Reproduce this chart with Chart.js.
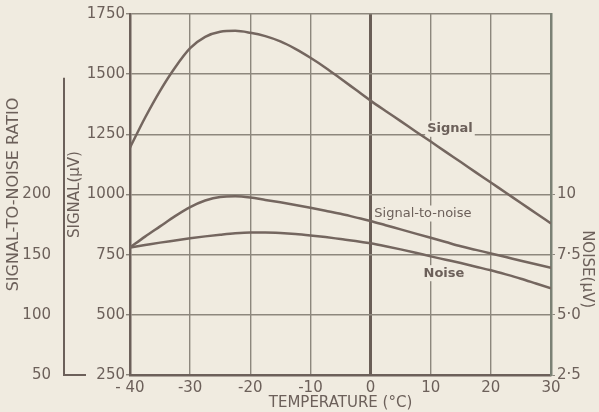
<!DOCTYPE html>
<html>
<head>
<meta charset="utf-8">
<script src="https://cdn.jsdelivr.net/npm/chart.js@4"></script>
<style>
    html, body { margin: 0; padding: 0; background: #f0ebe0; }
    canvas { display: block; }
</style>
</head>
<body>
<canvas id="chart" width="599" height="412"></canvas>
<script>
// Values, every 2.5 °C
const temperature = [-40, -37.5, -35, -32.5, -30, -27.5, -25, -22.5, -20, -17.5, -15, -12.5, -10, -7.5, -5, -2.5,
    0, 2.5, 5, 7.5, 10, 12.5, 15, 17.5, 20, 22.5, 25, 27.5, 30];
const signal = [1195, 1319, 1431, 1528, 1608, 1655, 1676, 1680, 1672, 1658, 1636, 1605, 1568, 1527, 1482, 1436,
    1390, 1347, 1305, 1262, 1220, 1177, 1135, 1092, 1050, 1007, 965, 922, 880];
const snrRatio = [156, 165, 173.5, 182, 189.5, 195, 198, 198.5, 197.5, 195.5, 193.5, 191.3, 189, 186.5, 184, 181,
    178, 174.5, 171, 167.5, 164, 160.5, 157, 154, 151, 148, 145, 142, 139];
const noise = [7.8, 7.9, 8.0, 8.09, 8.18, 8.26, 8.33, 8.39, 8.42, 8.42, 8.4, 8.36, 8.3, 8.23, 8.15, 8.07,
    7.97, 7.85, 7.72, 7.58, 7.43, 7.29, 7.15, 7.0, 6.85, 6.68, 6.5, 6.3, 6.1];

const tempTicks = [-40, -30, -20, -10, 0, 10, 20, 30];
const signalTicks = [250, 500, 750, 1000, 1250, 1500, 1750];
const snrTicks = [50, 100, 150, 200];
const noiseTicks = [2.5, 5, 7.5, 10];

const ink = '#6c605a';
const curve = '#74665f';
const gridColor = '#8d877d';
const paper = '#f0ebe0';
const font = 'DejaVu Sans';

function points(values) {
    return temperature.map((t, i) => ({ x: t, y: values[i] }));
}

function fixTicks(list) {
    return function(scale) {
        scale.ticks = list.map(v => ({ value: v }));
    };
}

// SNR axis line, curve labels and noise title
const decorations = {
    id: 'decorations',
    beforeDatasetsDraw(chart) {
        const ctx = chart.ctx;
        const x = chart.scales.x;
        const s = chart.scales.signal;
        const snr = chart.scales.snr;

        ctx.save();
        // separate signal-to-noise axis line
        const ax = snr.right;
        ctx.strokeStyle = ink;
        ctx.lineWidth = 2;
        ctx.beginPath();
        ctx.moveTo(ax, snr.getPixelForValue(297));
        ctx.lineTo(ax, snr.getPixelForValue(50));
        ctx.lineTo(ax + 22, snr.getPixelForValue(50));
        ctx.stroke();

        // curve labels
        const labels = [
            { text: 'Signal', t: 13.2, v: 1273, weight: 'bold' },
            { text: 'Signal-to-noise', t: 8.7, v: 921, weight: 'normal' },
            { text: 'Noise', t: 12.2, v: 673, weight: 'bold' }
        ];
        ctx.textAlign = 'center';
        ctx.textBaseline = 'middle';
        labels.forEach(l => {
            ctx.font = l.weight + ' 13px "' + font + '"';
            const px = x.getPixelForValue(l.t);
            const py = s.getPixelForValue(l.v);
            const w = ctx.measureText(l.text).width;
            ctx.fillStyle = paper;
            ctx.fillRect(px - w / 2 - 2, py - 8, w + 4, 16);
            ctx.fillStyle = ink;
            ctx.fillText(l.text, px, py);
        });

        // noise axis title
        const n = chart.scales.noise;
        ctx.font = '15px "' + font + '"';
        ctx.translate(n.right - 12, n.getPixelForValue(6.9));
        ctx.rotate(Math.PI / 2);
        ctx.fillText('NOISE(μV)', 0, 0);
        ctx.restore();
    }
};

const lineStyle = {
    borderColor: curve,
    borderWidth: 2.5,
    pointRadius: 0,
    cubicInterpolationMode: 'monotone',
    fill: false
};

new Chart(document.getElementById('chart'), {
    type: 'line',
    data: {
        datasets: [
            Object.assign({ label: 'Signal', data: points(signal), yAxisID: 'signal' }, lineStyle),
            Object.assign({ label: 'Signal-to-noise', data: points(snrRatio), yAxisID: 'snr' }, lineStyle),
            Object.assign({ label: 'Noise', data: points(noise), yAxisID: 'noise' }, lineStyle)
        ]
    },
    options: {
        responsive: false,
        animation: false,
        devicePixelRatio: 1,
        layout: { padding: { top: 13, left: 0, right: 0, bottom: 0 } },
        plugins: {
            legend: { display: false },
            tooltip: { enabled: false }
        },
        scales: {
            x: {
                type: 'linear',
                min: -40,
                max: 30,
                afterBuildTicks: fixTicks(tempTicks),
                afterFit: function(scale) { scale.height = 37; },
                grid: {
                    color: ctx => ctx.tick && ctx.tick.value === 0 ? '#6a5e57' : gridColor,
                    lineWidth: ctx => ctx.tick && ctx.tick.value === 0 ? 3 : 1.4,
                    drawTicks: false
                },
                border: { color: ink, width: 2.5 },
                ticks: {
                    padding: 4,
                    color: ink,
                    font: { family: font, size: 15 },
                    maxRotation: 0,
                    callback: v => v === -40 ? '- 40' : String(v)
                },
                title: {
                    display: true,
                    text: 'TEMPERATURE (°C)',
                    color: ink,
                    font: { family: font, size: 15 },
                    padding: { top: -3, bottom: 0 }
                }
            },
            signal: {
                type: 'linear',
                position: 'left',
                min: 250,
                max: 1750,
                afterBuildTicks: fixTicks(signalTicks),
                afterFit: function(scale) { scale.width = 66; },
                grid: { color: gridColor, lineWidth: 1.4, tickLength: 4 },
                border: { color: ink, width: 2.5 },
                ticks: {
                    padding: 1,
                    color: ink,
                    font: { family: font, size: 15 },
                    callback: v => String(v)
                },
                title: {
                    display: true,
                    text: 'SIGNAL(μV)',
                    color: ink,
                    font: { family: font, size: 15 },
                    padding: { top: 2, bottom: 0 }
                }
            },
            snr: {
                type: 'linear',
                position: 'left',
                min: 50,
                max: 350,
                afterBuildTicks: fixTicks(snrTicks),
                afterFit: function(scale) { scale.width = 64; },
                grid: { display: false },
                border: { display: false },
                ticks: {
                    padding: 5,
                    color: ink,
                    font: { family: font, size: 15 },
                    callback: v => String(v)
                },
                title: {
                    display: true,
                    text: 'SIGNAL-TO-NOISE RATIO',
                    color: ink,
                    font: { family: font, size: 16 },
                    padding: { top: 4, bottom: 0 }
                }
            },
            noise: {
                type: 'linear',
                position: 'right',
                min: 2.5,
                max: 17.5,
                afterBuildTicks: fixTicks(noiseTicks),
                afterFit: function(scale) { scale.width = 48; },
                grid: { drawOnChartArea: false, color: gridColor, tickLength: 4 },
                border: { color: '#7b8175', width: 2.5 },
                ticks: {
                    padding: 2,
                    color: ink,
                    font: { family: font, size: 15 },
                    callback: v => v === 10 ? '10' : v.toFixed(1).replace('.', '·')
                }
            }
        }
    },
    plugins: [decorations]
});
</script>
</body>
</html>
